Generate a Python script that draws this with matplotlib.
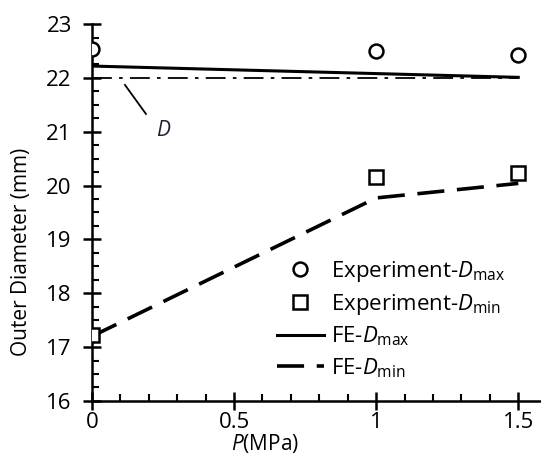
import matplotlib
matplotlib.use("Agg")
import matplotlib.pyplot as plt
from matplotlib.ticker import MultipleLocator

plt.rcParams['font.family'] = ['Open Sans', 'DejaVu Sans']
plt.rcParams['mathtext.fontset'] = 'custom'
plt.rcParams['mathtext.rm'] = 'Open Sans'
plt.rcParams['mathtext.it'] = 'Open Sans:italic'

pressure = [0, 1, 1.5]
exp_dmax = [22.53, 22.50, 22.42]
exp_dmin = [17.22, 20.16, 20.23]
fe_dmax = [22.22, 22.08, 22.01]
fe_dmin = [17.20, 19.77, 20.04]
d_nominal = [22.0, 22.0, 22.0]

fig = plt.figure(figsize=(5.41, 4.54), dpi=100)
ax = fig.add_axes([0.170, 0.117, 0.830, 0.830])

ax.plot(pressure, d_nominal, color='black', lw=1.3, ls=(0, (11, 4, 2, 4)))
ax.plot(pressure, fe_dmax, color='black', lw=2.2, label='FE-$D_{\\mathrm{max}}$')
ax.plot(pressure, fe_dmin, color='black', lw=2.6, ls=(0, (7.5, 3.5)), label='FE-$D_{\\mathrm{min}}$')
ax.plot(pressure, exp_dmax, ls='none', marker='o', ms=10, mfc='white', mec='black', mew=1.8,
        label='Experiment-$D_{\\mathrm{max}}$', zorder=5)
ax.plot(pressure, exp_dmin, ls='none', marker='s', ms=10, mfc='white', mec='black', mew=1.8,
        label='Experiment-$D_{\\mathrm{min}}$', zorder=5)

ax.plot([0.116, 0.19], [21.87, 21.33], color='black', lw=1.3)
ax.text(0.25, 21.03, 'D', fontsize=15, fontstyle='italic', ha='center', va='center', color='#202030')

ax.set_xlim(0, 1.58)
ax.set_ylim(16, 23)
ax.spines['top'].set_visible(False)
ax.spines['right'].set_visible(False)
ax.spines['left'].set_linewidth(1.8)
ax.spines['bottom'].set_linewidth(1.8)
ax.xaxis.set_major_locator(MultipleLocator(0.5))
ax.xaxis.set_minor_locator(MultipleLocator(0.1))
ax.yaxis.set_major_locator(MultipleLocator(1))
ax.yaxis.set_minor_locator(MultipleLocator(0.25))
ax.tick_params(which='major', direction='inout', length=13, width=1.8, labelsize=16)
ax.tick_params(which='minor', direction='in', length=5, width=1.5)
ax.tick_params(axis='y', which='major', pad=8)
ax.tick_params(axis='x', which='major', pad=1.5)
ax.set_xticks([0, 0.5, 1, 1.5])
ax.set_xticklabels(['0', '0.5', '1', '1.5'])

ax.set_xlabel('$\\mathit{P}$(MPa)', fontsize=15)
ax.xaxis.label.set_va('bottom')
ax.xaxis.set_label_coords(0.385, -0.144)
ax.set_ylabel('Outer Diameter (mm)', fontsize=15)
ax.yaxis.set_label_coords(-0.133, 0.395)

handles, labels = ax.get_legend_handles_labels()
order = [2, 3, 0, 1]
fig.legend([handles[i] for i in order], [labels[i] for i in order], loc='upper left',
           bbox_to_anchor=(277 / 541, 1 - 259 / 454), frameon=False, fontsize=16,
           handlelength=2.1, handletextpad=0.35, labelspacing=0.35, borderpad=0,
           borderaxespad=0)

fig.savefig('out.png', dpi=100)
